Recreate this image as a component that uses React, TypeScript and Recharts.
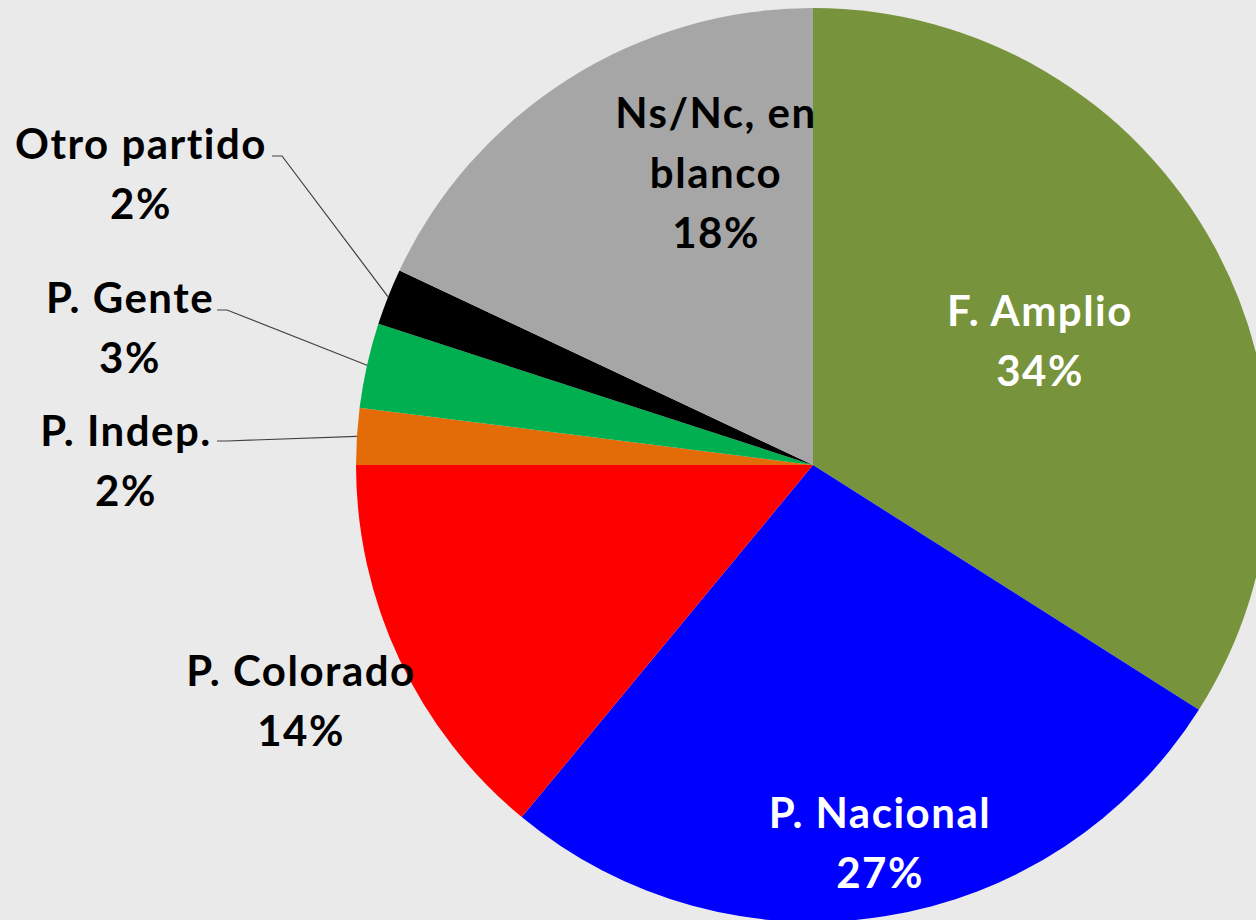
import React from 'react';
import { PieChart, Pie, Cell } from 'recharts';

const categories = ['F. Amplio', 'P. Nacional', 'P. Colorado', 'P. Indep.', 'P. Gente', 'Otro partido', 'Ns/Nc, en blanco'];
const values = [34, 27, 14, 2, 3, 2, 18];
const labelLines = [['F. Amplio'], ['P. Nacional'], ['P. Colorado'], ['P. Indep.'], ['P. Gente'], ['Otro partido'], ['Ns/Nc, en', 'blanco']];
const colors = ['#77933c', '#0000ff', '#ff0000', '#e36c09', '#00b050', '#000000', '#a6a6a6'];
const textColors = ['#ffffff', '#ffffff', '#000000', '#000000', '#000000', '#000000', '#000000'];

// label block centre offsets from pie centre (px), and leader-line start offsets (null = no leader)
const labelOffsets: [number, number][] = [
  [227, -125], [67, 377], [-512, 235], [-687, -5], [-683, -138], [-672, -292], [-97, -293],
];
const leaderStarts: ([number, number] | null)[] = [
  null, null, null, [-596, -24], [-596, -155], [-541, -309], null,
];

const data = categories.map((name, i) => ({ name, value: values[i] }));

const FONT = 'Lato, "Open Sans", sans-serif';
const LINE_H = 60;
const RADIAN = Math.PI / 180;

const renderLabel = (props: any) => {
  const { cx, cy, midAngle, outerRadius, index, value } = props;
  const [dx, dy] = labelOffsets[index];
  const lines = [...labelLines[index], `${value}%`];
  const x = cx + dx;
  const top = cy + dy - ((lines.length - 1) * LINE_H) / 2;
  const ls = leaderStarts[index];
  let leader = null;
  if (ls) {
    const ex = cx + outerRadius * Math.cos(-midAngle * RADIAN);
    const ey = cy + outerRadius * Math.sin(-midAngle * RADIAN);
    const sx = cx + ls[0];
    const sy = cy + ls[1];
    leader = (
      <polyline
        points={`${sx},${sy} ${sx + 10},${sy} ${ex},${ey}`}
        fill="none"
        stroke="#404040"
        strokeWidth={1.2}
      />
    );
  }
  return (
    <g key={`lbl-${index}`}>
      {leader}
      {lines.map((t, k) => (
        <text
          key={k}
          x={x}
          y={top + k * LINE_H}
          textAnchor="middle"
          dominantBaseline="central"
          fontFamily={FONT}
          fontWeight={700}
          fontSize={42}
          letterSpacing={1.5}
          fill={textColors[index]}
        >
          {t}
        </text>
      ))}
    </g>
  );
};

export default function App() {
  return (
    <div style={{ position: 'absolute', left: 0, top: 0, width: 1256, height: 920, background: '#eaeaea', overflow: 'hidden' }}>
      <PieChart width={1256} height={920} margin={{ top: 0, right: 0, bottom: 0, left: 0 }}>
        <Pie
          data={data}
          dataKey="value"
          nameKey="name"
          cx={813}
          cy={465}
          outerRadius={457}
          startAngle={90}
          endAngle={-270}
          stroke="none"
          label={renderLabel}
          labelLine={false}
          isAnimationActive={false}
        >
          {data.map((d, i) => (
            <Cell key={d.name} fill={colors[i]} stroke="none" />
          ))}
        </Pie>
      </PieChart>
    </div>
  );
}
